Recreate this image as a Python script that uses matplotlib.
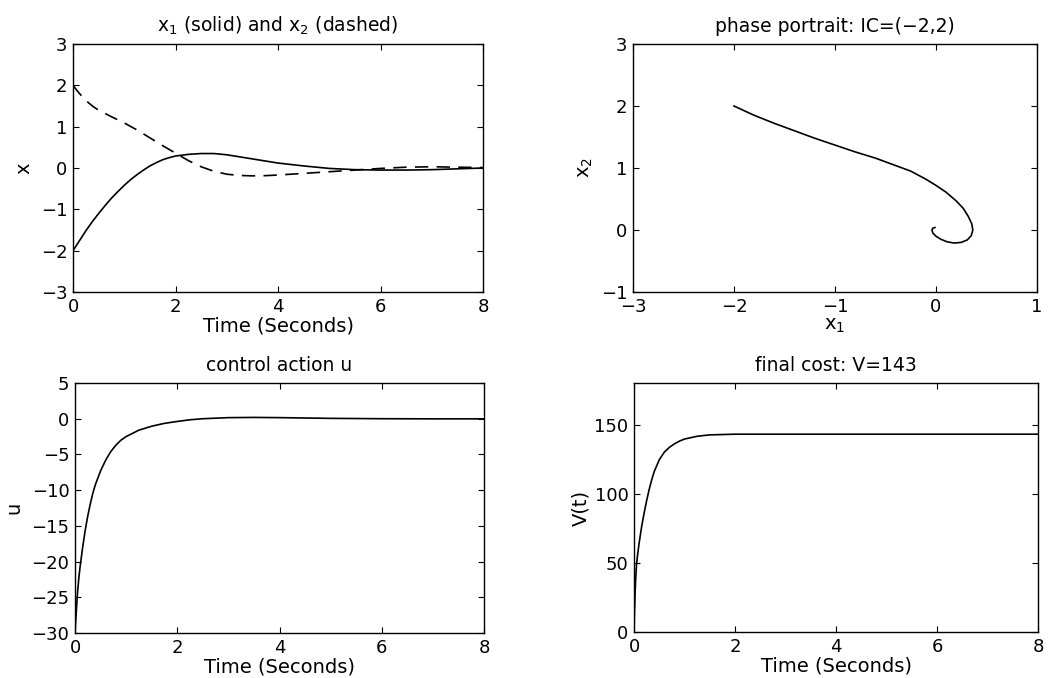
import numpy as np
import matplotlib
matplotlib.use('Agg')
import matplotlib.pyplot as plt

# states vs time
t_x1 = [0, 0.125, 0.25, 0.375, 0.5, 0.625, 0.75, 0.875, 1.0, 1.125, 1.25, 1.375, 1.5,
        1.625, 1.75, 1.875, 2.0, 2.25, 2.5, 2.75, 3.0, 3.25, 3.5, 3.75, 4.0, 4.5,
        5.0, 5.5, 6.0, 6.5, 7.0, 7.5, 8.0]
x1 = [-2.0, -1.76, -1.52, -1.30, -1.10, -0.91, -0.73, -0.57, -0.42, -0.28, -0.16, -0.05, 0.05,
      0.13, 0.20, 0.25, 0.29, 0.33, 0.35, 0.35, 0.32, 0.27, 0.22, 0.17, 0.12, 0.05,
      -0.01, -0.04, -0.05, -0.05, -0.04, -0.02, 0.0]

t_x2 = [0, 0.1, 0.2, 0.3, 0.4, 0.5, 0.75, 1.0, 1.25, 1.5, 1.75, 2.0, 2.25, 2.5, 2.75,
        3.0, 3.25, 3.5, 3.75, 4.0, 4.5, 5.0, 5.5, 6.0, 6.5, 7.0, 7.5, 8.0]
x2 = [2.0, 1.84, 1.70, 1.58, 1.48, 1.40, 1.24, 1.09, 0.92, 0.73, 0.54, 0.36, 0.18, 0.03, -0.08,
      -0.15, -0.18, -0.19, -0.185, -0.17, -0.13, -0.09, -0.05, -0.01, 0.02, 0.03, 0.02, 0.01]

# phase portrait trajectory
ph_x1 = [-2.0, -1.8, -1.6, -1.4, -1.2, -1.0, -0.8, -0.6, -0.4, -0.25, -0.1, 0.0, 0.1, 0.2,
         0.27, 0.32, 0.355, 0.365, 0.35, 0.31, 0.25, 0.18, 0.11, 0.05, 0.0, -0.03, -0.04,
         -0.03, -0.01]
ph_x2 = [2.0, 1.85, 1.72, 1.60, 1.48, 1.37, 1.26, 1.16, 1.04, 0.95, 0.82, 0.72, 0.61, 0.47,
         0.35, 0.22, 0.10, 0.0, -0.09, -0.16, -0.20, -0.21, -0.19, -0.15, -0.10, -0.05, 0.0,
         0.03, 0.04]

# control action
t_u = [0, 0.025, 0.05, 0.075, 0.1, 0.15, 0.2, 0.25, 0.3, 0.35, 0.4, 0.5, 0.6, 0.7, 0.8,
       0.9, 1.0, 1.25, 1.5, 1.75, 2.0, 2.25, 2.5, 3.0, 3.5, 4.0, 5.0, 6.0, 7.0, 8.0]
u = [-30, -27, -24.3, -22.3, -20.7, -18.0, -15.6, -13.6, -11.9, -10.4, -9.2, -7.3, -5.8, -4.6,
     -3.7, -3.0, -2.5, -1.6, -1.05, -0.65, -0.38, -0.15, 0.0, 0.15, 0.18, 0.15, 0.05, 0.0,
     -0.02, -0.02]

# cost
t_v = [0, 0.01, 0.02, 0.035, 0.05, 0.075, 0.1, 0.15, 0.2, 0.25, 0.3, 0.35, 0.4, 0.5, 0.6,
       0.7, 0.8, 0.9, 1.0, 1.25, 1.5, 2.0, 3.0, 4.0, 6.0, 8.0]
V = [0, 15, 27, 40, 49, 57, 64, 76, 86, 95, 103, 110, 116, 124.5, 130,
     133.5, 136, 138, 139.5, 141.5, 142.5, 143, 143, 143, 143, 143]

plt.rcParams['font.family'] = 'DejaVu Sans'
plt.rcParams['font.size'] = 13

fig = plt.figure(figsize=(10.49, 6.78), dpi=100)

ax1 = fig.add_axes([0.0696, 0.5693, 0.3909, 0.3658])
ax2 = fig.add_axes([0.6034, 0.5693, 0.3851, 0.3658])
ax3 = fig.add_axes([0.0715, 0.0664, 0.3899, 0.3687])
ax4 = fig.add_axes([0.6044, 0.0678, 0.3851, 0.3673])

for ax in [ax1, ax2, ax3, ax4]:
    ax.tick_params(direction='in', top=True, right=True, length=4, width=0.8,
                   labelsize=13, pad=4)
    for s in ax.spines.values():
        s.set_linewidth(1.0)

lw = 1.2
tsize = 13.5
lsize = 14

# x1 and x2
ax1.plot(t_x1, x1, color='black', lw=lw)
ax1.plot(t_x2, x2, color='black', lw=lw, linestyle=(0, (8, 5)))
ax1.set_xlim(0, 8)
ax1.set_ylim(-3, 3)
ax1.set_yticks([-3, -2, -1, 0, 1, 2, 3])
ax1.set_title(r'$\mathregular{x_1}$ (solid) and $\mathregular{x_2}$ (dashed)', fontsize=tsize, pad=9)
ax1.set_xlabel('Time (Seconds)', fontsize=lsize, labelpad=1)
ax1.set_ylabel('x', fontsize=lsize, labelpad=5)

# phase portrait
ax2.plot(ph_x1, ph_x2, color='black', lw=lw)
ax2.set_xlim(-3, 1)
ax2.set_ylim(-1, 3)
ax2.set_xticks([-3, -2, -1, 0, 1])
ax2.set_yticks([-1, 0, 1, 2, 3])
ax2.set_title('phase portrait: IC=(\u22122,2)', fontsize=tsize, pad=9)
ax2.set_xlabel(r'$\mathregular{x_1}$', fontsize=lsize, labelpad=0)
ax2.set_ylabel(r'$\mathregular{x_2}$', fontsize=lsize, labelpad=4)

# control action
ax3.plot(t_u, u, color='black', lw=lw)
ax3.set_xlim(0, 8)
ax3.set_ylim(-30, 5)
ax3.set_yticks([-30, -25, -20, -15, -10, -5, 0, 5])
ax3.set_title('control action u', fontsize=tsize, pad=9)
ax3.set_xlabel('Time (Seconds)', fontsize=lsize, labelpad=1)
ax3.set_ylabel('u', fontsize=lsize, labelpad=6)

# cost
ax4.plot(t_v, V, color='black', lw=lw)
ax4.set_xlim(0, 8)
ax4.set_ylim(0, 180)
ax4.set_yticks([0, 50, 100, 150])
ax4.set_title('final cost: V=143', fontsize=tsize, pad=9)
ax4.set_xlabel('Time (Seconds)', fontsize=lsize, labelpad=1)
ax4.set_ylabel('V(t)', fontsize=lsize, labelpad=3)

fig.savefig('out.png', dpi=100)
